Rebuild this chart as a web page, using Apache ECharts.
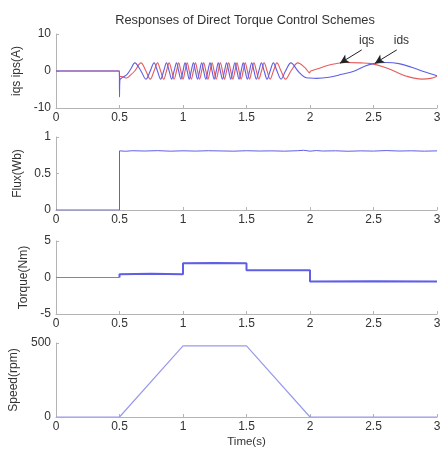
<!DOCTYPE html>
<html>
<head>
<meta charset="utf-8">
<script src="https://cdn.jsdelivr.net/npm/echarts@6/dist/echarts.min.js"></script>
<style>
html,body{margin:0;padding:0;background:#fff}
#c{width:445px;height:450px}
</style>
</head>
<body>
<div id="c"></div>
<script>
// Stator current d-axis component (A): [time s, current]
const idsPts = [
  [0,0],[0.499,0],[0.5,-7],[0.503,-2.4],[0.53,-1.6],[0.56,-0.9],[0.59,0.6],
  [0.620,2.2],[0.669,0],[0.708,-2.2],[0.742,0],[0.772,2.2],[0.799,0],[0.824,-2.2],[0.848,0],
  [0.870,2.2],[0.891,0],[0.911,-2.2],[0.930,0],[0.949,2.2],[0.966,0],[0.983,-2.2],[1.000,0],
  [1.016,2.2],[1.033,0],[1.049,-2.2],[1.065,0],[1.082,2.2],[1.098,0],[1.114,-2.2],[1.131,0],
  [1.147,2.2],[1.163,0],[1.180,-2.2],[1.196,0],[1.213,2.2],[1.229,0],[1.245,-2.2],[1.262,0],
  [1.278,2.2],[1.294,0],[1.311,-2.2],[1.327,0],[1.343,2.2],[1.360,0],[1.376,-2.2],[1.392,0],
  [1.409,2.2],[1.425,0],[1.441,-2.2],[1.458,0],[1.474,2.2],[1.490,0],[1.507,-2.2],[1.524,0],
  [1.541,2.2],[1.559,0],[1.578,-2.2],[1.597,0],[1.618,2.2],[1.639,0],[1.662,-2.2],[1.686,0],
  [1.712,2.2],[1.740,0],[1.772,-2.2],[1.807,0],[1.850,2.2],[1.905,0],[1.96,-1.7],[2.0,-1.9],
  [2.05,-2.0],[2.15,-1.7],[2.25,-0.9],[2.35,0],[2.43,1.3],[2.5,2.0],[2.6,2.3],[2.7,2.0],
  [2.8,1.0],[2.9,-0.2],[3.0,-1.3]
];
// Stator current q-axis component (A): [time s, current]
const iqsPts = [
  [0,0],[0.499,0],[0.5,-1.8],[0.505,-1.4],[0.53,-1.6],[0.555,-1.9],[0.59,-1.0],
  [0.620,0],[0.669,2.2],[0.708,0],[0.742,-2.2],[0.772,0],[0.799,2.2],[0.824,0],[0.848,-2.2],
  [0.870,0],[0.891,2.2],[0.911,0],[0.930,-2.2],[0.949,0],[0.966,2.2],[0.983,0],[1.000,-2.2],
  [1.016,0],[1.033,2.2],[1.049,0],[1.065,-2.2],[1.082,0],[1.098,2.2],[1.114,0],[1.131,-2.2],
  [1.147,0],[1.163,2.2],[1.180,0],[1.196,-2.2],[1.213,0],[1.229,2.2],[1.245,0],[1.262,-2.2],
  [1.278,0],[1.294,2.2],[1.311,0],[1.327,-2.2],[1.343,0],[1.360,2.2],[1.376,0],[1.392,-2.2],
  [1.409,0],[1.425,2.2],[1.441,0],[1.458,-2.2],[1.474,0],[1.490,2.2],[1.507,0],[1.524,-2.2],
  [1.541,0],[1.559,2.2],[1.578,0],[1.597,-2.2],[1.618,0],[1.639,2.2],[1.662,0],[1.686,-2.2],
  [1.712,0],[1.740,2.2],[1.772,0],[1.807,-2.2],[1.850,0],[1.905,2.2],[1.96,0.9],[1.998,-0.5],
  [2.002,-0.1],[2.08,0.8],[2.16,1.7],[2.28,2.3],[2.4,2.2],[2.48,2.0],[2.58,1.1],[2.66,0],
  [2.76,-1.4],[2.88,-2.2],[2.95,-2.0],[3.0,-1.4]
];
// Stator flux magnitude (Wb)
const fluxPts = [
  [0,0],[0.5,0],[0.5,0.81],[0.55,0.805],[0.6,0.812],[0.7,0.808],[0.8,0.813],[0.9,0.806],
  [1.0,0.811],[1.1,0.807],[1.2,0.812],[1.3,0.809],[1.4,0.806],[1.5,0.812],[1.6,0.808],
  [1.7,0.81],[1.8,0.806],[1.9,0.812],[1.95,0.818],[2.0,0.806],[2.05,0.814],[2.1,0.808],
  [2.2,0.811],[2.3,0.805],[2.4,0.81],[2.5,0.807],[2.6,0.814],[2.7,0.808],[2.8,0.811],
  [2.9,0.806],[3.0,0.81]
];
// Electromagnetic torque (Nm) and its reference
const torquePts = [
  [0.5,0],[0.5,0.45],[0.75,0.5],[1,0.45],[1,1.95],[1.25,2.0],[1.5,1.95],[1.5,1.0],
  [1.75,1.0],[2,1.0],[2,-0.55],[2.5,-0.5],[3,-0.55]
];
const torqueRefPts = [[0,0],[0.5,0]];
// Rotor speed (rpm)
const speedPts = [[0,0],[0.5,0],[1,480],[1.5,480],[2,0],[3,0]];

// Panel axis ranges and labels
const panelNames = ['iqs ips(A)', 'Flux(Wb)', 'Torque(Nm)', 'Speed(rpm)'];
const panelMin = [-10, 0, -5, 0];
const panelMax = [10, 1, 5, 500];
const panelStep = [10, 0.5, 5, 500];

const FONT = 'Liberation Sans, Arial, sans-serif';
const AXIS_COLOR = '#b4b4b4';
const TEXT_COLOR = '#333';
const gridTops = [34, 137, 241, 343];
const gridHeights = [74, 73, 73, 74];
const nameGaps = [30, 31, 16, 29];

const grids = gridTops.map((t, i) => ({ left: 56, right: 8, top: t, height: gridHeights[i] }));

const xAxes = gridTops.map((_, i) => ({
  type: 'value', gridIndex: i, min: 0, max: 3, interval: 0.5,
  axisLine: { show: true, onZero: false, lineStyle: { color: AXIS_COLOR, width: 1 } },
  axisTick: { show: true, inside: true, length: 3, lineStyle: { color: AXIS_COLOR } },
  axisLabel: { margin: 4, color: TEXT_COLOR, fontSize: 12, fontFamily: FONT },
  splitLine: { show: false },
  name: i === 3 ? 'Time(s)' : '',
  nameLocation: 'middle', nameGap: 19,
  nameTextStyle: { color: TEXT_COLOR, fontSize: 11.5, fontFamily: FONT }
}));

const yAxes = gridTops.map((_, i) => ({
  type: 'value', gridIndex: i, min: panelMin[i], max: panelMax[i], interval: panelStep[i],
  axisLine: { show: true, onZero: false, lineStyle: { color: AXIS_COLOR, width: 1 } },
  axisTick: { show: true, inside: true, length: 3, lineStyle: { color: AXIS_COLOR } },
  axisLabel: { margin: 5, color: TEXT_COLOR, fontSize: 12, fontFamily: FONT },
  splitLine: { show: false },
  name: panelNames[i], nameLocation: 'middle', nameRotate: 90, nameGap: nameGaps[i],
  nameTextStyle: { color: TEXT_COLOR, fontSize: 12, fontFamily: FONT }
}));

const RED = '#e65c5c';
const BLUE = '#5f5fe6';
const arrowLines = [
  [{ coord: [2.407, 5.7] }, { coord: [2.236, 2.1] }],
  [{ coord: [2.683, 5.7] }, { coord: [2.512, 2.1] }]
];
const tagPoints = [
  { coord: [2.446, 8.3], value: 'iqs' },
  { coord: [2.72, 8.3], value: 'ids' }
];

const option = {
  animation: false,
  backgroundColor: '#fff',
  grid: grids,
  xAxis: xAxes,
  yAxis: yAxes,
  graphic: [{
    type: 'text', x: 245, y: 20,
    style: { text: 'Responses of Direct Torque Control Schemes', fill: TEXT_COLOR,
      font: '12.8px ' + FONT, textAlign: 'center', textVerticalAlign: 'middle' }
  }],
  series: [
    { type: 'line', name: 'iqs', xAxisIndex: 0, yAxisIndex: 0, data: iqsPts, showSymbol: false,
      smooth: 0.35, lineStyle: { color: RED, width: 1.1 }, z: 2,
      markLine: { silent: true, symbol: ['none', 'arrow'], symbolSize: [7, 9],
        lineStyle: { color: '#222', width: 1, type: 'solid' }, label: { show: false },
        data: arrowLines },
      markPoint: { silent: true, symbol: 'circle', symbolSize: 0,
        label: { show: true, position: 'inside', formatter: p => p.value, color: TEXT_COLOR,
          fontSize: 12, fontFamily: FONT },
        data: tagPoints } },
    { type: 'line', name: 'ids', xAxisIndex: 0, yAxisIndex: 0, data: idsPts, showSymbol: false,
      smooth: 0.35, lineStyle: { color: BLUE, width: 1.1 }, z: 3 },
    { type: 'line', xAxisIndex: 1, yAxisIndex: 1, data: fluxPts, showSymbol: false,
      lineStyle: { color: BLUE, width: 1 } },
    { type: 'line', xAxisIndex: 2, yAxisIndex: 2, data: torqueRefPts, showSymbol: false,
      lineStyle: { color: '#4caf50', width: 1 } },
    { type: 'line', xAxisIndex: 2, yAxisIndex: 2, data: torquePts, showSymbol: false,
      lineStyle: { color: BLUE, width: 2 } },
    { type: 'line', xAxisIndex: 3, yAxisIndex: 3, data: speedPts, showSymbol: false,
      lineStyle: { color: '#9a9aec', width: 1.2 } }
  ]
};

const chart = echarts.init(document.getElementById('c'), null, { renderer: 'canvas' });
chart.setOption(option);
</script>
</body>
</html>
